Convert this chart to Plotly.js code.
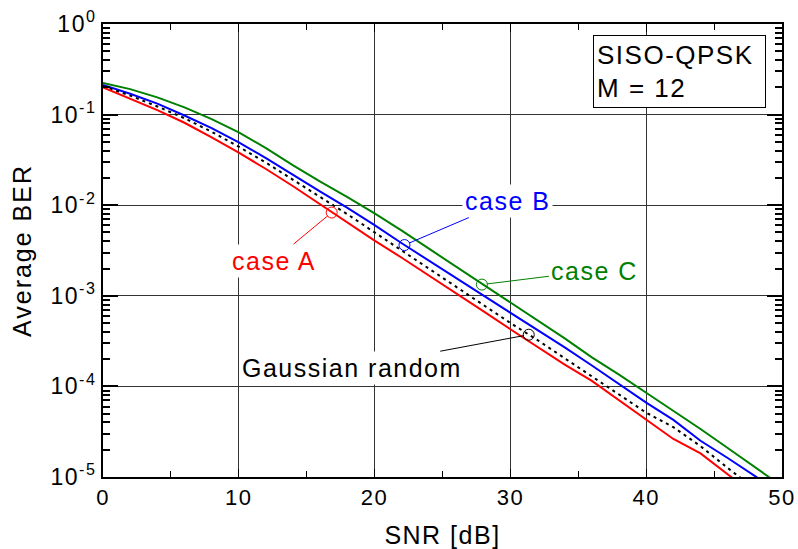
<!DOCTYPE html>
<html>
<head>
<meta charset="utf-8">
<script src="https://cdn.plot.ly/plotly-3.0.1.min.js"></script>
<style>
html,body{margin:0;padding:0;background:#fff;}
#chart{width:798px;height:549px;}
svg text{letter-spacing:1.5px;}
svg text.ytitle{letter-spacing:2px;}
</style>
</head>
<body>
<div id="chart"></div>
<script>
const snr = [0,2,4,6,8,10,12,14,16,18,20,22,24,26,28,30,32,34,36,38,40,42,44,46,48,50];

const berCaseA = [0.200,0.151,0.112,0.0813,0.0562,0.0380,0.0251,0.0162,0.0102,0.00646,0.00407,0.00263,0.00166,0.00105,6.76e-4,4.27e-4,2.75e-4,1.74e-4,1.15e-4,7.08e-5,4.27e-5,2.63e-5,1.82e-5,1.07e-5,6.3e-6,null];
const berGauss = [0.2065,0.162,0.123,0.0912,0.0646,0.0442,0.0295,0.0191,0.0123,0.00794,0.00501,0.00316,0.00200,0.00126,7.94e-4,5.01e-4,3.24e-4,2.04e-4,1.29e-4,8.13e-5,5.13e-5,3.55e-5,2.19e-5,1.26e-5,7.4e-6,null];
const berCaseB = [0.212,0.170,0.132,0.0977,0.0708,0.0493,0.0331,0.0214,0.0141,0.00933,0.00603,0.00380,0.00245,0.00158,0.00102,6.61e-4,4.17e-4,2.69e-4,1.70e-4,1.07e-4,6.61e-5,4.27e-5,2.51e-5,1.62e-5,1.02e-5,6.5e-6];
const berCaseC = [0.224,0.191,0.155,0.120,0.0891,0.0638,0.0427,0.0275,0.0182,0.0123,0.00813,0.00525,0.00331,0.00209,0.00132,8.51e-4,5.37e-4,3.39e-4,2.09e-4,1.35e-4,8.51e-5,5.43e-5,3.39e-5,2.09e-5,1.29e-5,7.9e-6];

// marker points (label anchors)
const markA = {x: 16.84, y: 0.0083};
const markB = {x: 22.2, y: 0.00363};
const markC = {x: 27.9, y: 0.00133};
const markG = {x: 31.35, y: 3.72e-4};

const yTickVals = [1e-5,1e-4,1e-3,1e-2,1e-1,1];
const yTickText = ['10<sup>-5</sup>','10<sup>-4</sup>','10<sup>-3</sup>','10<sup>-2</sup>','10<sup>-1</sup>','10<sup>0</sup>'];
const xTickVals = [0,10,20,30,40,50];

const RED = '#ff0000', BLUE = '#0000ff', GREEN = '#008000', BLACK = '#000000';
const FONT = 'Arial, "Liberation Sans", sans-serif';

const traces = [
  {x: snr, y: berCaseC, mode: 'lines', line: {color: GREEN, width: 2}, showlegend: false},
  {x: snr, y: berCaseB, mode: 'lines', line: {color: BLUE, width: 2}, showlegend: false},
  {x: snr, y: berGauss, mode: 'lines', line: {color: BLACK, width: 2, dash: '3px,4px'}, showlegend: false},
  {x: snr, y: berCaseA, mode: 'lines', line: {color: RED, width: 2}, showlegend: false},
  {x: [markA.x], y: [markA.y], mode: 'markers', marker: {symbol: 'circle-open', size: 11, color: RED, line: {width: 1}}, showlegend: false},
  {x: [markB.x], y: [markB.y], mode: 'markers', marker: {symbol: 'circle-open', size: 11, color: BLUE, line: {width: 1}}, showlegend: false},
  {x: [markC.x], y: [markC.y], mode: 'markers', marker: {symbol: 'circle-open', size: 11, color: GREEN, line: {width: 1}}, showlegend: false},
  {x: [markG.x], y: [markG.y], mode: 'markers', marker: {symbol: 'circle-open', size: 11, color: BLACK, line: {width: 1}}, showlegend: false}
];

function label(text, color, pt, ax, ay) {
  return {
    x: pt.x, y: Math.log10(pt.y), xref: 'x', yref: 'y',
    text: text, showarrow: true, arrowhead: 0, arrowwidth: 1, arrowcolor: color,
    ax: ax, ay: ay, standoff: 5, bgcolor: '#ffffff', borderpad: 2,
    font: {family: FONT, size: 25, color: color}
  };
}

const layout = {
  width: 798, height: 549,
  margin: {l: 103, r: 16, t: 24, b: 72},
  paper_bgcolor: '#ffffff', plot_bgcolor: '#ffffff',
  font: {family: FONT, size: 22, color: '#000'},
  xaxis: {
    range: [0, 50], tickmode: 'array', tickvals: xTickVals,
    showgrid: true, gridcolor: '#333', gridwidth: 1,
    showline: true, linecolor: '#000', linewidth: 2, mirror: 'ticks',
    ticks: 'inside', ticklen: 8, tickcolor: '#000',
    minor: {dtick: 5, ticks: 'inside', ticklen: 6, tickcolor: '#000', showgrid: false},
    zeroline: false,
    tickfont: {family: FONT, size: 22},
    title: {text: 'SNR [dB]', font: {family: FONT, size: 25}, standoff: 18}
  },
  yaxis: {
    type: 'log', range: [-5, 0], tickmode: 'array', tickvals: yTickVals, ticktext: yTickText,
    showgrid: true, gridcolor: '#333', gridwidth: 1,
    showline: true, linecolor: '#000', linewidth: 2, mirror: 'ticks',
    ticks: 'inside', ticklen: 15, tickwidth: 2, tickcolor: '#000',
    minor: {dtick: 'D1', ticks: 'inside', ticklen: 7, tickcolor: '#000', showgrid: false},
    zeroline: false,
    tickfont: {family: FONT, size: 23},
    title: {text: 'Average BER', font: {family: FONT, size: 25}, standoff: 12}
  },
  annotations: [
    label('case A', RED, markA, -58, 48),
    label('case B', BLUE, markB, 103, -44),
    label('case C', GREEN, markC, 113, -14),
    label('Gaussian random', BLACK, markG, -177, 33),
    {
      xref: 'paper', yref: 'paper', x: 0.721, y: 0.9757, xanchor: 'left', yanchor: 'top',
      text: 'SISO-QPSK<br>M = 12', align: 'left', showarrow: false,
      bgcolor: '#ffffff', bordercolor: '#000', borderwidth: 1, borderpad: 3,
      width: 165, height: 65,
      font: {family: FONT, size: 26, color: '#000'}
    }
  ]
};

Plotly.newPlot('chart', traces, layout, {displayModeBar: false, staticPlot: true});
</script>
</body>
</html>
